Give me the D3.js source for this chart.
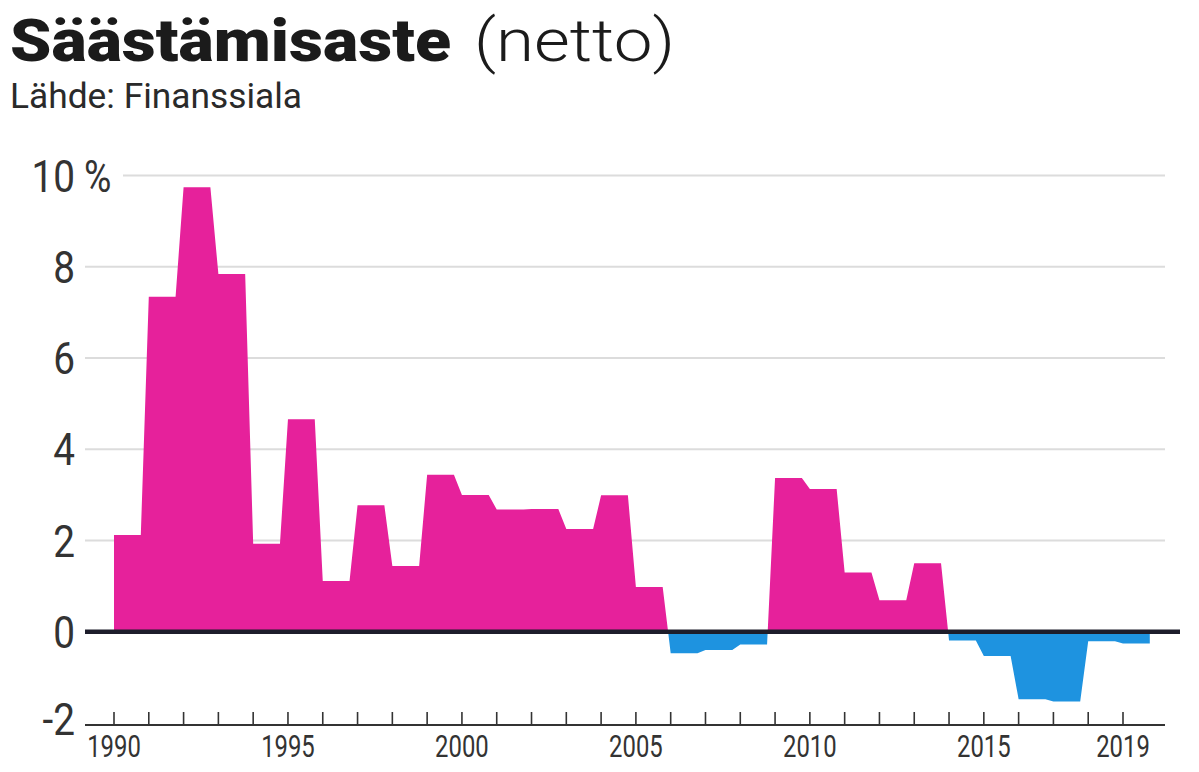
<!DOCTYPE html>
<html>
<head>
<meta charset="utf-8">
<script src="https://d3js.org/d3.v7.min.js"></script>
<style>
  body { margin: 0; background: #fff; }
  text { font-family: Roboto, "Noto Sans", sans-serif; }
</style>
</head>
<body>
<div id="chart"></div>
<script>
// savings rate (net), % by year
var years = [1990, 1991, 1992, 1993, 1994, 1995, 1996, 1997, 1998, 1999,
             2000, 2001, 2002, 2003, 2004, 2005, 2006, 2007, 2008, 2009,
             2010, 2011, 2012, 2013, 2014, 2015, 2016, 2017, 2018, 2019];
var rates = [2.12, 7.34, 9.74, 7.84, 1.93, 4.66, 1.11, 2.77, 1.44, 3.44,
             3.00, 2.68, 2.69, 2.25, 2.99, 0.98, -0.47, -0.40, -0.28, 3.37,
             3.13, 1.30, 0.69, 1.50, -0.19, -0.53, -1.48, -1.53, -0.21, -0.26];
var yTicks = [-2, 0, 2, 4, 6, 8, 10];
var xLabels = [1990, 1995, 2000, 2005, 2010, 2015, 2019];

var width = 1199, height = 772;
var plateau = 0.77; // each year's value is held for most of the year

var svg = d3.select("#chart").append("svg")
  .attr("width", width)
  .attr("height", height);

var xs = d3.scaleLinear().domain([1990, 2019]).range([114, 1123]);
var ys = d3.scaleLinear().domain([-2, 10]).range([723, 175.5]);

// squeeze text a bit, the original font is narrower
function condense(sel, f) {
  sel.each(function() {
    var l = this.getComputedTextLength();
    d3.select(this).attr("textLength", l * f).attr("lengthAdjust", "spacingAndGlyphs");
  });
}

// title
var t1 = svg.append("text")
  .attr("x", 10).attr("y", 61)
  .style("font-size", "60px").style("font-weight", 900)
  .attr("fill", "#1b1b1b")
  .text("Säästämisaste");
condense(t1, 441 / t1.node().getComputedTextLength());
var t2 = svg.append("text")
  .attr("x", 474).attr("y", 61)
  .style("font-size", "60px").style("font-weight", 300)
  .attr("fill", "#1b1b1b")
  .text("(netto)");
condense(t2, 201 / t2.node().getComputedTextLength());
var t3 = svg.append("text")
  .attr("x", 10).attr("y", 108)
  .style("font-size", "34.5px").style("font-weight", 400)
  .attr("fill", "#2a2a2a")
  .text("Lähde: Finanssiala");
condense(t3, 292 / t3.node().getComputedTextLength());

// grid lines
svg.append("g").selectAll("line")
  .data(yTicks.filter(function(d) { return d > 0; }))
  .enter().append("line")
  .attr("x1", function(d) { return d == 10 ? 123 : 85; })
  .attr("x2", 1165)
  .attr("y1", function(d) { return ys(d); })
  .attr("y2", function(d) { return ys(d); })
  .attr("stroke", "#dcdcdc")
  .attr("stroke-width", 2);

// y labels
var yl = svg.append("g").selectAll("text")
  .data(yTicks)
  .enter().append("text")
  .attr("x", 75)
  .attr("y", function(d) { return ys(d) + (d == -2 ? -3 : 1); })
  .attr("dominant-baseline", "central")
  .attr("text-anchor", "end")
  .style("font-size", "44px")
  .attr("fill", "#333")
  .text(function(d) { return d; });
condense(yl, 0.88);
svg.append("text")
  .attr("x", 84).attr("y", ys(10) + 1)
  .attr("dominant-baseline", "central")
  .style("font-size", "44px")
  .attr("fill", "#333")
  .text("%")
  .call(condense, 0.85);

// area points: value held from year start to year + plateau
var pts = [];
years.forEach(function(y, i) {
  pts.push({x: y, v: rates[i]});
  pts.push({x: y + plateau, v: rates[i]});
});

var area = d3.area()
  .x(function(d) { return xs(d.x); })
  .y0(ys(0))
  .y1(function(d) { return ys(d.v); });

var defs = svg.append("defs");
defs.append("clipPath").attr("id", "pos").append("rect")
  .attr("x", 0).attr("y", 0).attr("width", width).attr("height", ys(0));
defs.append("clipPath").attr("id", "neg").append("rect")
  .attr("x", 0).attr("y", ys(0)).attr("width", width).attr("height", height - ys(0));

svg.append("path")
  .datum(pts)
  .attr("clip-path", "url(#pos)")
  .attr("fill", "#e6219b")
  .attr("d", area);
svg.append("path")
  .datum(pts)
  .attr("clip-path", "url(#neg)")
  .attr("fill", "#1e93e0")
  .attr("d", area);

// zero line
svg.append("line")
  .attr("x1", 85).attr("x2", 1180)
  .attr("y1", ys(0)).attr("y2", ys(0))
  .attr("stroke", "#1d1d2b")
  .attr("stroke-width", 4.5);

// x axis
var xa = svg.append("g").attr("transform", "translate(0," + 725 + ")");
xa.append("line")
  .attr("x1", 85).attr("x2", 1165)
  .attr("stroke", "#333").attr("stroke-width", 1.8);
xa.selectAll(".tick")
  .data(years)
  .enter().append("line")
  .attr("class", "tick")
  .attr("x1", function(d) { return xs(d); })
  .attr("x2", function(d) { return xs(d); })
  .attr("y1", 0).attr("y2", -13)
  .attr("stroke", "#333").attr("stroke-width", 1.6);
var xl = xa.selectAll(".lbl")
  .data(xLabels)
  .enter().append("text")
  .attr("class", "lbl")
  .attr("x", function(d) { return xs(d); })
  .attr("y", 32)
  .attr("text-anchor", "middle")
  .style("font-size", "31px")
  .attr("fill", "#333")
  .text(function(d) { return d; });
condense(xl, 0.77);
</script>
</body>
</html>
